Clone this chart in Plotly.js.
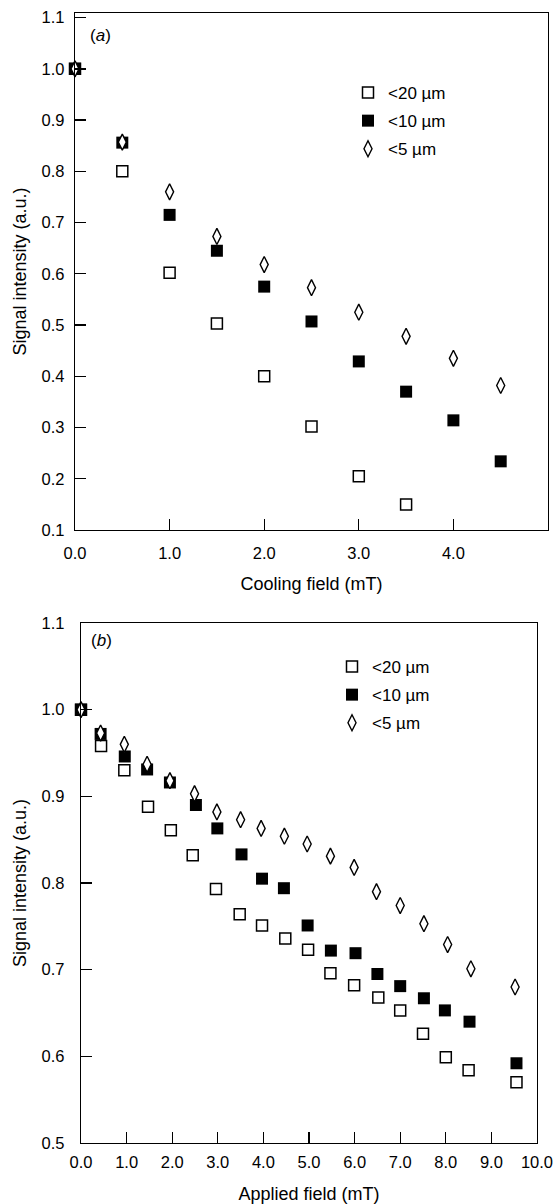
<!DOCTYPE html>
<html><head><meta charset="utf-8">
<script src="https://cdn.plot.ly/plotly-3.0.1.min.js"></script>
<style>html,body{margin:0;padding:0;background:#fff}#chart{width:556px;height:1204px}</style>
</head><body><div id="chart"></div>
<script>
const seriesNames = ['<20 \u00b5m', '<10 \u00b5m', '<5 \u00b5m'];

// Panel (a): signal intensity vs cooling field
const coolX20 = [0, 0.5, 1.0, 1.5, 2.0, 2.5, 3.0, 3.5];
const coolY20 = [1.0, 0.80, 0.602, 0.503, 0.40, 0.302, 0.205, 0.15];
const coolX10 = [0, 0.5, 1.0, 1.5, 2.0, 2.5, 3.0, 3.5, 4.0, 4.5];
const coolY10 = [1.0, 0.856, 0.715, 0.645, 0.575, 0.507, 0.429, 0.37, 0.314, 0.234];
const coolX5 = [0, 0.5, 1.0, 1.5, 2.0, 2.5, 3.0, 3.5, 4.0, 4.5];
const coolY5 = [1.0, 0.857, 0.76, 0.673, 0.618, 0.573, 0.525, 0.478, 0.435, 0.382];

// Panel (b): signal intensity vs applied field
const appX20 = [0, 0.44, 0.95, 1.47, 1.97, 2.45, 2.96, 3.48, 3.97, 4.48, 4.98, 5.47, 5.99, 6.52, 7.0, 7.5, 8.0, 8.5, 9.55];
const appY20 = [1.0, 0.958, 0.930, 0.888, 0.861, 0.832, 0.793, 0.764, 0.751, 0.736, 0.723, 0.696, 0.682, 0.668, 0.653, 0.626, 0.599, 0.584, 0.570];
const appX10 = [0, 0.43, 0.96, 1.45, 1.95, 2.52, 2.99, 3.52, 3.97, 4.45, 4.97, 5.48, 6.02, 6.5, 7.0, 7.52, 7.98, 8.52, 9.55];
const appY10 = [1.0, 0.972, 0.946, 0.931, 0.916, 0.890, 0.863, 0.833, 0.805, 0.794, 0.751, 0.722, 0.719, 0.695, 0.681, 0.667, 0.653, 0.640, 0.592];
const appX5 = [0, 0.43, 0.95, 1.45, 1.95, 2.49, 2.98, 3.5, 3.95, 4.46, 4.96, 5.47, 5.99, 6.48, 7.0, 7.52, 8.04, 8.55, 9.52];
const appY5 = [1.0, 0.973, 0.960, 0.937, 0.918, 0.903, 0.882, 0.873, 0.863, 0.854, 0.845, 0.831, 0.818, 0.790, 0.774, 0.753, 0.729, 0.701, 0.680];

const panelLabels = ['(<i>a</i>)', '(<i>b</i>)'];
const xTitles = ['Cooling field (mT)', 'Applied field (mT)'];
const yTitle = 'Signal intensity (a.u.)';

const FONT = 'Liberation Sans, Arial, Helvetica, sans-serif';
const W = 556, H = 1204;
const px = v => v / W;
const py = v => 1 - v / H;

const markers = [
  {symbol: 'square', size: 11, color: '#fff', line: {width: 1.5, color: '#000'}},
  {symbol: 'square', size: 12, color: '#000', line: {width: 0}},
  {symbol: 'diamond-tall', size: 11.5, color: '#fff', line: {width: 1.4, color: '#000'}}
];

function mk(x, y, i, xa, ya, leg) {
  return {
    x: x, y: y, type: 'scatter', mode: 'markers', name: seriesNames[i],
    xaxis: xa, yaxis: ya, legend: leg, legendgroup: leg + i,
    marker: markers[i], cliponaxis: false, showlegend: true
  };
}

const data = [
  mk(coolX20, coolY20, 0, 'x', 'y', 'legend'),
  mk(coolX10, coolY10, 1, 'x', 'y', 'legend'),
  mk(coolX5, coolY5, 2, 'x', 'y', 'legend'),
  mk(appX20, appY20, 0, 'x2', 'y2', 'legend2'),
  mk(appX10, appY10, 1, 'x2', 'y2', 'legend2'),
  mk(appX5, appY5, 2, 'x2', 'y2', 'legend2')
];

const axCommon = {
  showgrid: false, zeroline: false, showline: true, mirror: true,
  linecolor: '#000', linewidth: 1.3, ticks: 'inside', ticklen: 11,
  tickwidth: 1.3, tickcolor: '#000', automargin: false,
  tickfont: {family: FONT, size: 16.5, color: '#000'}, tickformat: '.1f'
};
const titleFont = {family: FONT, size: 18, color: '#000'};

const layout = {
  width: W, height: H,
  margin: {l: 0, r: 0, t: 0, b: 0},
  paper_bgcolor: '#fff', plot_bgcolor: '#fff',
  font: {family: FONT, color: '#000'},
  xaxis: Object.assign({}, axCommon, {
    domain: [px(75), px(548)], range: [0, 5], dtick: 1, tick0: 0, anchor: 'y',
    ticklabelstandoff: 8,
    title: {text: xTitles[0], font: titleFont, standoff: 16}
  }),
  yaxis: Object.assign({}, axCommon, {
    domain: [py(530), py(13)], range: [0.1, 1.109], dtick: 0.1, tick0: 0.1, anchor: 'x',
    ticklabelstandoff: 6,
    title: {text: yTitle, font: titleFont, standoff: 10}
  }),
  xaxis2: Object.assign({}, axCommon, {
    domain: [px(81), px(537)], range: [0, 10], dtick: 1, tick0: 0, anchor: 'y2',
    ticklabelstandoff: 4,
    title: {text: xTitles[1], font: titleFont, standoff: 17}
  }),
  yaxis2: Object.assign({}, axCommon, {
    domain: [py(1143), py(623)], range: [0.5, 1.1], dtick: 0.1, tick0: 0.5, anchor: 'x2',
    ticklabelstandoff: 12,
    title: {text: yTitle, font: titleFont, standoff: 10}
  }),
  legend: {
    x: px(348), y: py(75), xanchor: 'left', yanchor: 'top',
    bgcolor: 'rgba(0,0,0,0)', borderwidth: 0, tracegroupgap: 3,
    font: {family: FONT, size: 17, color: '#000'}
  },
  legend2: {
    x: px(332), y: py(649), xanchor: 'left', yanchor: 'top',
    bgcolor: 'rgba(0,0,0,0)', borderwidth: 0, tracegroupgap: 3,
    font: {family: FONT, size: 17, color: '#000'}
  },
  annotations: [
    {xref: 'paper', yref: 'paper', x: px(88), y: py(35), xanchor: 'left', yanchor: 'middle',
     text: panelLabels[0], showarrow: false, font: {family: FONT, size: 17, color: '#000'}},
    {xref: 'paper', yref: 'paper', x: px(89), y: py(640), xanchor: 'left', yanchor: 'middle',
     text: panelLabels[1], showarrow: false, font: {family: FONT, size: 17, color: '#000'}}
  ]
};

Plotly.newPlot('chart', data, layout, {displayModeBar: false, staticPlot: true});
</script>
</body></html>
